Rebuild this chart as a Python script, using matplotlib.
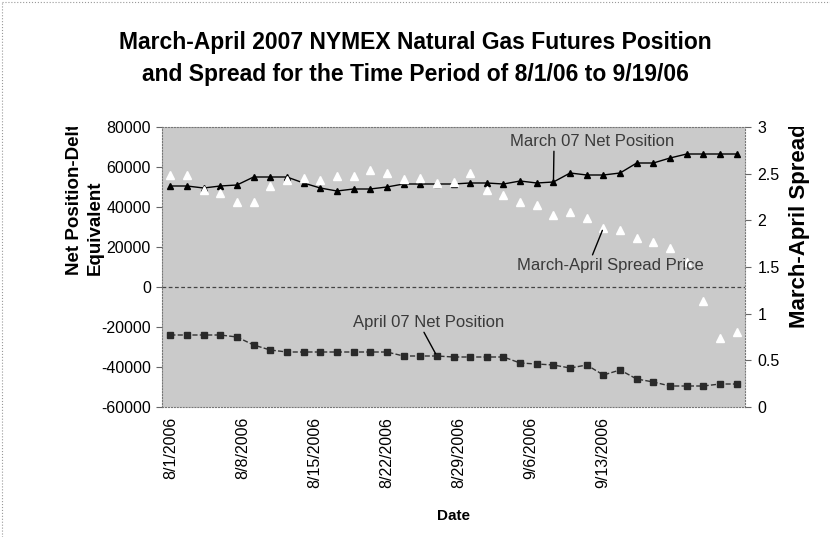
import numpy as np
import matplotlib.pyplot as plt
from matplotlib.transforms import Bbox

plt.rcParams['font.family'] = ['Liberation Sans', 'DejaVu Sans']

# 35 trading days, 8/1/2006 .. 9/19/2006
tick_labels = ['8/1/2006', '8/8/2006', '8/15/2006', '8/22/2006',
               '8/29/2006', '9/6/2006', '9/13/2006']

march_net = [50500, 50500, 49500, 50500, 51000, 55000, 55000, 55000, 52000,
             49500, 48000, 49000, 49000, 50000, 51500, 51500, 51500, 51500,
             52000, 52000, 51500, 53000, 52000, 52500, 57000, 56000, 56000,
             57000, 62000, 62000, 64500, 66500, 66500, 66500, 66500]
april_net = [-24000, -24000, -24000, -24000, -25000, -29000, -31500, -32500,
             -32500, -32500, -32500, -32500, -32500, -32500, -34500, -34500,
             -34500, -35000, -35000, -35000, -35000, -38000, -38500, -39000,
             -40500, -39000, -44000, -41500, -46000, -47500, -49500, -49500,
             -49500, -48500, -48500]
spread = [2.49, 2.49, 2.33, 2.29, 2.20, 2.20, 2.37, 2.43, 2.45, 2.43, 2.47,
          2.48, 2.54, 2.51, 2.44, 2.45, 2.40, 2.41, 2.51, 2.32, 2.27, 2.20,
          2.16, 2.06, 2.09, 2.03, 1.92, 1.90, 1.81, 1.77, 1.70, 1.55, 1.14,
          0.74, 0.80]

x = np.arange(len(march_net))

fig = plt.figure(figsize=(8.3, 5.37), dpi=100)
ax = fig.add_axes([162 / 830, 1 - 407 / 537, 583 / 830, 280 / 537])
ax.set_facecolor('#cacaca')

ax.axhline(0, color='#444444', lw=0.9, ls=(0, (3, 2)))
ax.plot(x, march_net, color='black', lw=1, marker='^', ms=4.5,
        markerfacecolor='black', markeredgecolor='black')
ax.plot(x, april_net, color='#333333', lw=1, ls='--', marker='s', ms=4,
        markerfacecolor='#2a2a2a', markeredgecolor='#2a2a2a')

ax.set_xlim(-0.5, 34.5)
ax.set_ylim(-60000, 80000)
ax.set_yticks(np.arange(-60000, 80001, 20000))
ax.set_yticklabels([str(v) for v in range(-60000, 80001, 20000)], fontsize=11.5)
ax.set_xticks(np.arange(len(tick_labels)) * 4.33)
ax.set_xticklabels(tick_labels, rotation=90, fontsize=11.5)
ax.tick_params(axis='x', length=0, pad=7)
ax.tick_params(axis='y', length=4, pad=4, color='#666666')
ax.set_xlabel('Date', fontsize=11, fontweight='bold', labelpad=15)
for s in ax.spines.values():
    s.set_color('#777777')
    s.set_linestyle(':')

ax2 = ax.twinx()
ax2.plot(x, spread, ls='none', marker='^', ms=5.5,
         markerfacecolor='white', markeredgecolor='white')
ax2.set_ylim(0, 3)
ax2.set_yticks(np.arange(0, 3.01, 0.5))
ax2.set_yticklabels(['0', '0.5', '1', '1.5', '2', '2.5', '3'], fontsize=11.5)
ax2.tick_params(axis='y', length=4, pad=5, color='#666666')
for s in ax2.spines.values():
    s.set_visible(False)

# callout labels
ax.annotate('March 07 Net Position', xy=(23, march_net[23]), xytext=(25.3, 73000),
            fontsize=12, color='#3a3a3a', ha='center', va='center',
            arrowprops=dict(arrowstyle='-', color='black', lw=1,
                            relpos=(0.27, 0), shrinkA=0, shrinkB=2))
ax.annotate('April 07 Net Position', xy=(16, april_net[16]), xytext=(15.5, -17500),
            fontsize=12, color='#3a3a3a', ha='center', va='center',
            arrowprops=dict(arrowstyle='-', color='black', lw=1,
                            relpos=(0.46, 0), shrinkA=0, shrinkB=2))
ax2.annotate('March-April Spread Price', xy=(26, spread[26]), xytext=(26.4, 1.52),
             fontsize=12, color='#3a3a3a', ha='center', va='center',
             arrowprops=dict(arrowstyle='-', color='black', lw=1,
                             relpos=(0.4, 1), shrinkA=0, shrinkB=2))

fig.text(0.5, 1 - 42 / 537, 'March-April 2007 NYMEX Natural Gas Futures Position',
         ha='center', va='center', fontsize=16.5, fontweight='bold')
fig.text(0.5, 1 - 74 / 537, 'and Spread for the Time Period of 8/1/06 to 9/19/06',
         ha='center', va='center', fontsize=16.5, fontweight='bold')

# axis titles, cut off at the top as in the original
clip = Bbox.from_extents(0, 0, 830, 537 - 127)
t1 = fig.text(85 / 830, 1 - 275 / 537, 'Net Position-Delta\nEquivalent',
              rotation=90, ha='left', va='center', fontsize=13.5,
              fontweight='bold', multialignment='left', linespacing=1.25,
              rotation_mode='anchor')
t1.set_clip_box(clip)
t1.set_clip_on(True)
t2 = fig.text(799 / 830, 1 - 328 / 537, 'March-April Spread',
              rotation=90, ha='left', va='center', fontsize=16,
              fontweight='bold', rotation_mode='anchor')
t2.set_clip_box(clip)
t2.set_clip_on(True)

# dotted frame of the chart area (top and left edges)
fig.add_artist(plt.Line2D([0.003, 1], [0.996, 0.996], color='#999999', lw=0.8, ls=':'))
fig.add_artist(plt.Line2D([0.003, 0.003], [0, 0.996], color='#999999', lw=0.8, ls=':'))

fig.savefig('out.png', dpi=100)
